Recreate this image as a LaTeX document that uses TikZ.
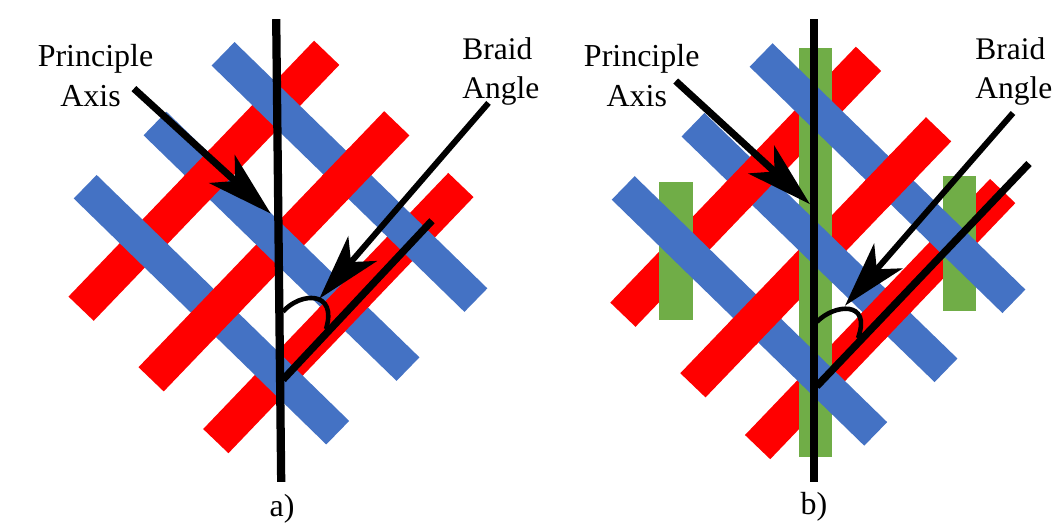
\documentclass[tikz,border=0pt]{standalone}
\usepackage{fontspec}
\setmainfont{Liberation Serif}
\usepackage{xcolor}
\usetikzlibrary{arrows.meta,calc}

\definecolor{strandred}{HTML}{FF0000}
\definecolor{strandblue}{HTML}{4472C4}
\definecolor{strandgreen}{HTML}{70AD47}

% one braid: red shift, blue shift, then what goes between red and blue
\newcommand{\weave}[5]{
  \begin{scope}[shift={(#1,#2)}]
    \coordinate (red1a) at (326.7,52.8);
    \coordinate (red1b) at (81.1,308.7);
    \coordinate (red2a) at (396.8,123.3);
    \coordinate (red2b) at (151.1,379.3);
    \coordinate (red3a) at (460.9,185);
    \coordinate (red3b) at (215.8,441.1);
    \foreach \n in {1,2,3}
      \draw[redstrip] (red\n a) -- (red\n b);
  \end{scope}
  #5
  \begin{scope}[shift={(#3,#4)}]
    \draw[bluestrip] (223.1,53.8) -- (475.9,300.1);
    \draw[bluestrip] (155,123.5) -- (408,369.1);
    \draw[bluestrip] (85.2,186.7) -- (337.7,432.7);
  \end{scope}
  \foreach \n/\t in {1/0.48,2/0.2,2/0.74,3/0.477}
    \draw[redstrip] ($(red\n a)!\t-0.055!(red\n b)$) -- ($(red\n a)!\t+0.055!(red\n b)$);
}

\begin{document}
\begin{tikzpicture}[
  x=0.02cm, y=-0.02cm,
  redstrip/.style={draw=strandred, line width=19.9pt},
  bluestrip/.style={draw=strandblue, line width=18.7pt},
  greenstrip/.style={fill=strandgreen},
  axisline/.style={line width=4.7pt},
  angleline/.style={line width=4.2pt},
  anglearc/.style={line width=2.6pt},
  pointer/.style={-{Stealth[length=37.5pt, width=21.5pt, inset=10pt]}},
  label/.style={font=\fontsize{18.2}{22.6}\selectfont, align=center, inner sep=0pt},
  braid/.style={label, font=\fontsize{17.9}{22.2}\selectfont, align=left},
  caption/.style={font=\fontsize{18.2}{20}\selectfont, inner sep=0pt}
]
\useasboundingbox (0,0) rectangle (1052,529);

% panel a
\weave{0}{0}{0}{0}{}
\coordinate (axisTopA) at (276.2,19.2);
\coordinate (axisEndA) at (281.2,481.8);
\coordinate (angleOriA) at (283,379.6);
\coordinate (angleEndA) at (432,220.7);
\coordinate (arcStartA) at (283,311.7);
\coordinate (arcEndA) at (326,329);
\coordinate (prinFromA) at (133.9,88.6);
\coordinate (prinTipA) at (270.8,213.6);
\coordinate (braidFromA) at (488.5,102.9);
\coordinate (braidTipA) at (319.4,298.6);
\draw[axisline] (axisTopA) -- (axisEndA);
\draw[angleline] (angleOriA) -- (angleEndA);
\draw[anglearc] (arcStartA) .. controls (300,292) and (338,290) .. (arcEndA);
\draw[pointer, line width=4pt] (prinFromA) -- (prinTipA);
\draw[pointer, line width=3.4pt] (braidFromA) -- (braidTipA);
\node[label] (prinA) at (95.5,75.5) {Principle\\Axis\kern5.6pt};
\node[braid, anchor=north west] (braidA) at (462,37.5) {Braid\\Angle};
\node[caption] (capA) at (282,509) {a)};

% panel b
\weave{541.8}{6}{538}{1.2}{
  \fill[greenstrip] (799,48.2) rectangle (832.3,457.2);
  \fill[greenstrip] (659.3,182.2) rectangle (693.3,320);
  \fill[greenstrip] (942.7,176) rectangle (976,311);
}
\coordinate (axisTopB) at (814,19.2);
\coordinate (axisEndB) at (814,481.8);
\coordinate (angleOriB) at (816.7,386.3);
\coordinate (angleEndB) at (1029,163.5);
\coordinate (arcStartB) at (817,321.8);
\coordinate (arcEndB) at (858,338);
\coordinate (prinFromB) at (675.7,81);
\coordinate (prinTipB) at (810,204.2);
\coordinate (braidFromB) at (1013,113);
\coordinate (braidTipB) at (845,305.7);
\draw[axisline] (axisTopB) -- (axisEndB);
\draw[angleline] (angleOriB) -- (angleEndB);
\draw[anglearc] (arcStartB) .. controls (834,304) and (872,300) .. (arcEndB);
\draw[pointer, line width=4pt] (prinFromB) -- (prinTipB);
\draw[pointer, line width=3.4pt] (braidFromB) -- (braidTipB);
\node[label] (prinB) at (641.7,75.5) {Principle\\Axis\kern5.6pt};
\node[braid, anchor=north west] (braidB) at (975,37.5) {Braid\\Angle};
\node[caption] (capB) at (814,507) {b)};
\end{tikzpicture}
\end{document}
